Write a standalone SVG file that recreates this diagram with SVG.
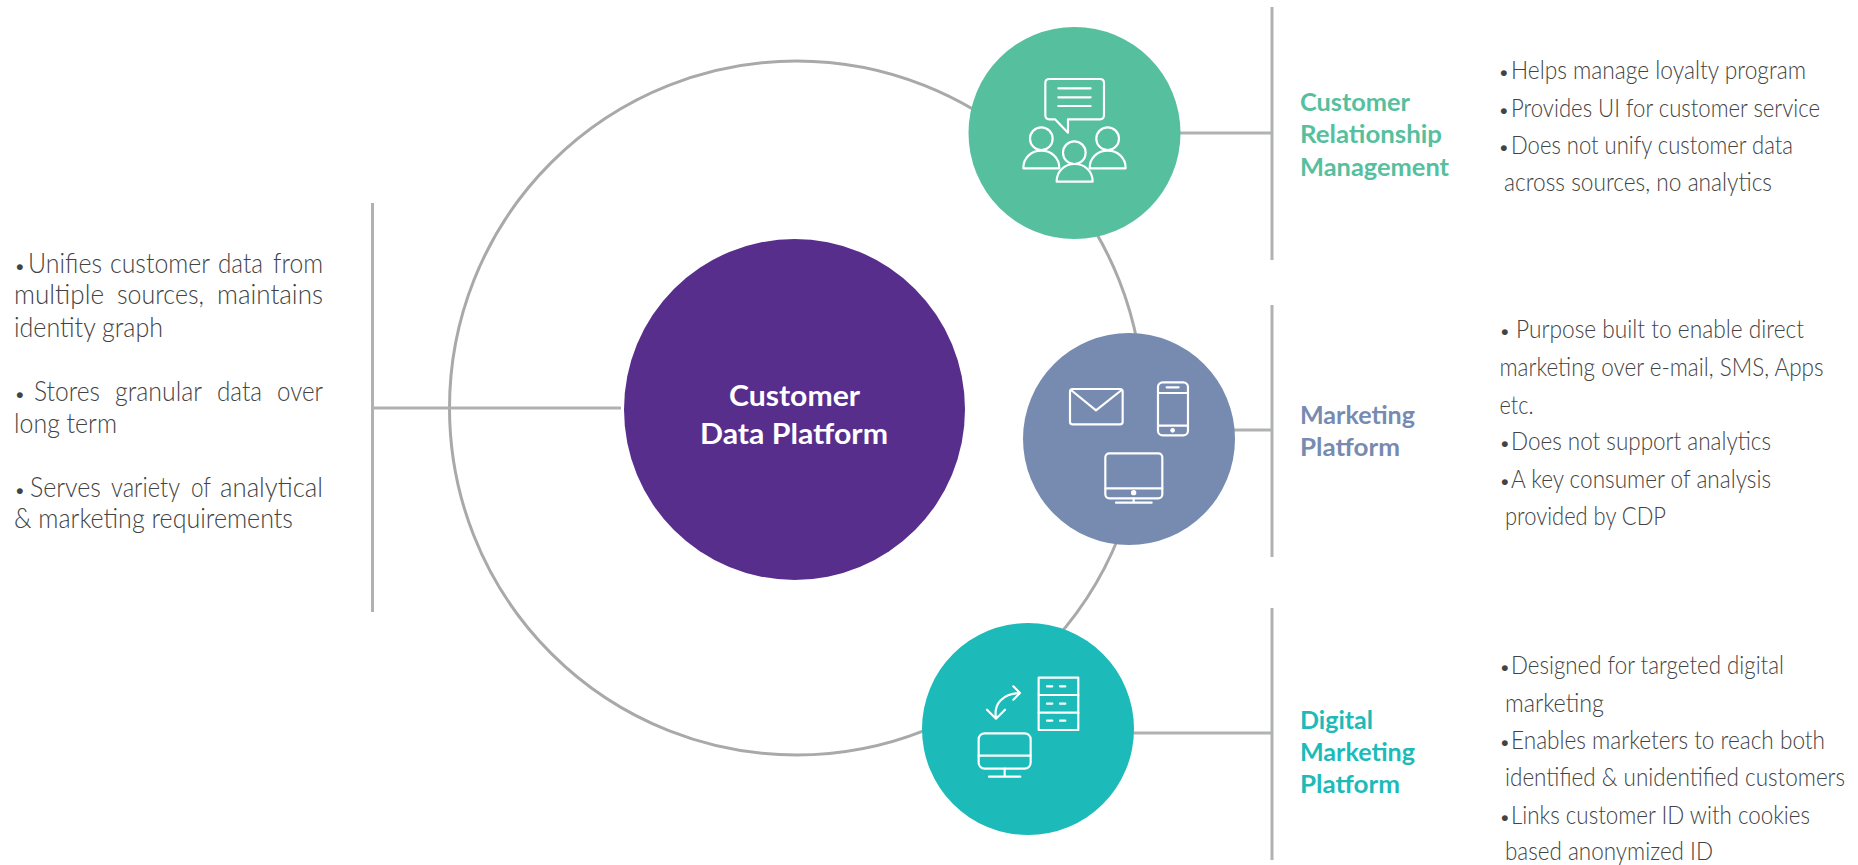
<svg xmlns="http://www.w3.org/2000/svg" width="1858" height="865" viewBox="0 0 1858 865">
<style>
text{font-family:"Lato","Open Sans","Liberation Sans",sans-serif}
.b{font-size:25px;font-weight:300;fill:#434343}
.l{font-size:26.5px;font-weight:300;fill:#434343}
.p{font-size:20px}
.h{font-size:25.5px;font-weight:700}
.c{font-size:29px;font-weight:700;fill:#fff}
.ln{stroke:#b0b2b2;stroke-width:3;fill:none}
.i{fill:none;stroke:#fff;stroke-width:6.500;stroke-linejoin:round;stroke-linecap:round}
.d{fill:#fff;stroke:none}
</style>
<rect width="1858" height="865" fill="#fff"/>
<g id="connectors">
<circle cx="796.500" cy="408" r="347" fill="none" stroke="#a9a9a9" stroke-width="3"/>
<path class="ln" d="M372.500 203V612M372 408H621"/>
<path class="ln" d="M1272 7V260M1180 133H1272"/>
<path class="ln" d="M1272 305V557M1234 430H1272"/>
<path class="ln" d="M1272 608V860M1133 733H1272"/>
</g>
<g id="node-cdp">
<circle cx="794.500" cy="409.500" r="170.500" fill="#582e8d"/>
<text class="c" x="729" y="405.500" textLength="131" lengthAdjust="spacingAndGlyphs">Customer</text>
<text class="c" x="700" y="443.500" textLength="188" lengthAdjust="spacingAndGlyphs">Data Platform</text>
</g>
<g id="node-crm">
<circle cx="1074.500" cy="133" r="106" fill="#56bf9e"/>
<g transform="translate(940 0) scale(.3333)" class="i">
<path d="M328 237H480Q492 237 492 249V346Q492 358 480 358H384V398L345 358H328Q316 358 316 346V249Q316 237 328 237Z"/>
<path d="M355 265H452M355 292H452M355 318H452"/>
<circle cx="304" cy="416" r="34"/><path d="M250 505C250 472 275 452 304 452C333 452 358 472 358 505Z"/>
<circle cx="503" cy="416" r="34"/><path d="M449 505C449 472 474 452 503 452C532 452 557 472 557 505Z"/>
<circle cx="403" cy="458" r="34"/><path d="M350 545C350 512 375 492 404 492C433 492 458 512 458 545Z"/>
</g>
<text class="h" fill="#56bf9e" x="1300" y="110.500" textLength="110" lengthAdjust="spacingAndGlyphs">Customer</text>
<text class="h" fill="#56bf9e" x="1300" y="143" textLength="142" lengthAdjust="spacingAndGlyphs">Relationship</text>
<text class="h" fill="#56bf9e" x="1300" y="175.500" textLength="149" lengthAdjust="spacingAndGlyphs">Management</text>
<text class="b" y="79"><tspan class="p" x="1498">•</tspan><tspan x="1511" textLength="295" lengthAdjust="spacingAndGlyphs">Helps manage loyalty program</tspan></text>
<text class="b" y="117"><tspan class="p" x="1498">•</tspan><tspan x="1511" textLength="309" lengthAdjust="spacingAndGlyphs">Provides UI for customer service</tspan></text>
<text class="b" y="154"><tspan class="p" x="1498">•</tspan><tspan x="1511" textLength="282" lengthAdjust="spacingAndGlyphs">Does not unify customer data</tspan></text>
<text class="b" x="1504" y="191" textLength="268" lengthAdjust="spacingAndGlyphs">across sources, no analytics</text>
</g>
<g id="node-marketing">
<circle cx="1129" cy="439" r="106" fill="#778bb1"/>
<g transform="translate(990 310) scale(.3333)" class="i">
<rect x="240" y="237" width="158" height="106" rx="8"/><path d="M243 240L318 301L395 240"/>
<rect x="504" y="217" width="90" height="159" rx="14"/><path d="M504 249H594M504 347H594M530 232H566"/><circle class="d" cx="548" cy="361" r="7"/>
<rect x="346" y="430" width="171" height="135" rx="12"/><path d="M346 535H517M431 565V578M378 578H485"/><circle class="d" cx="431" cy="548" r="8"/>
</g>
<text class="h" fill="#778bb1" x="1300" y="424" textLength="115" lengthAdjust="spacingAndGlyphs">Marketing</text>
<text class="h" fill="#778bb1" x="1300" y="456" textLength="100" lengthAdjust="spacingAndGlyphs">Platform</text>
<text class="b" y="338"><tspan class="p" x="1499">•</tspan><tspan x="1516" textLength="288" lengthAdjust="spacingAndGlyphs">Purpose built to enable direct</tspan></text>
<text class="b" x="1499.500" y="376" textLength="324" lengthAdjust="spacingAndGlyphs">marketing over e-mail, SMS, Apps</text>
<text class="b" x="1499.500" y="414" textLength="34" lengthAdjust="spacingAndGlyphs">etc.</text>
<text class="b" y="450"><tspan class="p" x="1499">•</tspan><tspan x="1511" textLength="260" lengthAdjust="spacingAndGlyphs">Does not support analytics</tspan></text>
<text class="b" y="488"><tspan class="p" x="1499">•</tspan><tspan x="1511" textLength="260" lengthAdjust="spacingAndGlyphs">A key consumer of analysis</tspan></text>
<text class="b" x="1505" y="525" textLength="161" lengthAdjust="spacingAndGlyphs">provided by CDP</text>
</g>
<g id="node-digital">
<circle cx="1028" cy="729" r="106" fill="#1cbbba"/>
<g transform="translate(910 610) scale(.3333)" class="i">
<rect x="386" y="203" width="119" height="157"/><path d="M386 255H505M386 308H505"/>
<path d="M411 229H427M450 229H466M411 281H427M450 281H466M411 332H427M450 332H466"/>
<rect x="206" y="370" width="156" height="106" rx="18"/><path d="M206 437H362M284 476V500M237 500H331"/>
<path d="M258 325C250 280 280 250 330 249M310 229L330 249L310 269M231 299L258 326L285 299"/>
</g>
<text class="h" fill="#1cbbba" x="1300" y="729" textLength="73" lengthAdjust="spacingAndGlyphs">Digital</text>
<text class="h" fill="#1cbbba" x="1300" y="761" textLength="115" lengthAdjust="spacingAndGlyphs">Marketing</text>
<text class="h" fill="#1cbbba" x="1300" y="793" textLength="100" lengthAdjust="spacingAndGlyphs">Platform</text>
<text class="b" y="674"><tspan class="p" x="1499">•</tspan><tspan x="1511" textLength="273" lengthAdjust="spacingAndGlyphs">Designed for targeted digital</tspan></text>
<text class="b" x="1505" y="712" textLength="99" lengthAdjust="spacingAndGlyphs">marketing</text>
<text class="b" y="749"><tspan class="p" x="1499">•</tspan><tspan x="1511" textLength="314" lengthAdjust="spacingAndGlyphs">Enables marketers to reach both</tspan></text>
<text class="b" x="1505" y="786" textLength="340" lengthAdjust="spacingAndGlyphs">identified &amp; unidentified customers</text>
<text class="b" y="824"><tspan class="p" x="1499">•</tspan><tspan x="1511" textLength="299" lengthAdjust="spacingAndGlyphs">Links customer ID with cookies</tspan></text>
<text class="b" x="1505" y="860" textLength="208" lengthAdjust="spacingAndGlyphs">based anonymized ID</text>
</g>
<g id="left-notes">
<text class="l" y="273"><tspan class="p" x="14">•</tspan><tspan x="28" textLength="74" lengthAdjust="spacingAndGlyphs">Unifies</tspan><tspan x="110" textLength="100" lengthAdjust="spacingAndGlyphs">customer</tspan><tspan x="218" textLength="45" lengthAdjust="spacingAndGlyphs">data</tspan><tspan x="273" textLength="50" lengthAdjust="spacingAndGlyphs">from</tspan></text>
<text class="l" y="304"><tspan x="14" textLength="90" lengthAdjust="spacingAndGlyphs">multiple</tspan><tspan x="117" textLength="87" lengthAdjust="spacingAndGlyphs">sources,</tspan><tspan x="217" textLength="106" lengthAdjust="spacingAndGlyphs">maintains</tspan></text>
<text class="l" x="14" y="337" textLength="149" lengthAdjust="spacingAndGlyphs">identity graph</text>
<text class="l" y="401"><tspan class="p" x="14">•</tspan><tspan x="34" textLength="66" lengthAdjust="spacingAndGlyphs">Stores</tspan><tspan x="115" textLength="87" lengthAdjust="spacingAndGlyphs">granular</tspan><tspan x="217" textLength="45" lengthAdjust="spacingAndGlyphs">data</tspan><tspan x="277" textLength="46" lengthAdjust="spacingAndGlyphs">over</tspan></text>
<text class="l" x="14" y="433" textLength="103" lengthAdjust="spacingAndGlyphs">long term</text>
<text class="l" y="497"><tspan class="p" x="14">•</tspan><tspan x="30" textLength="71" lengthAdjust="spacingAndGlyphs">Serves</tspan><tspan x="111" textLength="69" lengthAdjust="spacingAndGlyphs">variety</tspan><tspan x="191" textLength="20" lengthAdjust="spacingAndGlyphs">of</tspan><tspan x="220" textLength="103" lengthAdjust="spacingAndGlyphs">analytical</tspan></text>
<text class="l" x="14" y="528" textLength="279" lengthAdjust="spacingAndGlyphs">&amp; marketing requirements</text>
</g>
</svg>
